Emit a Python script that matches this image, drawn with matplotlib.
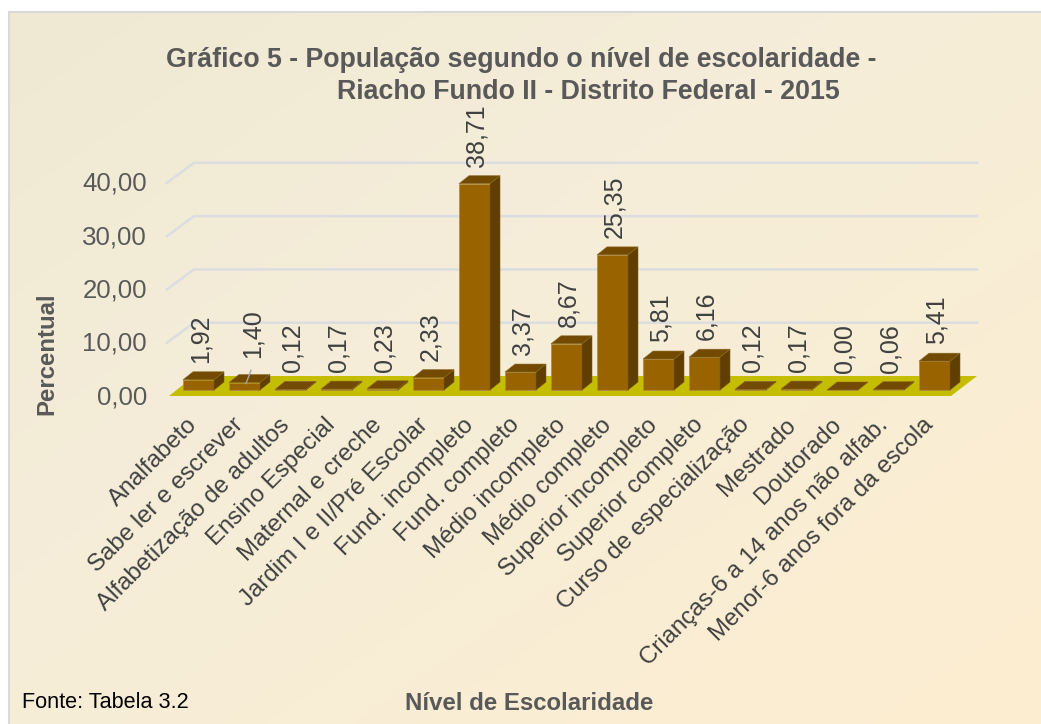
import numpy as np
import matplotlib
matplotlib.use("Agg")
import matplotlib.pyplot as plt
from matplotlib.patches import Polygon
from matplotlib.colors import LinearSegmentedColormap

categorias = ["Analfabeto", "Sabe ler e escrever", "Alfabetização de adultos", "Ensino Especial",
              "Maternal e creche", "Jardim I e II/Pré Escolar", "Fund. incompleto", "Fund. completo",
              "Médio incompleto", "Médio completo", "Superior incompleto", "Superior completo",
              "Curso de especialização", "Mestrado", "Doutorado", "Crianças-6 a 14 anos não alfab.",
              "Menor-6 anos fora da escola"]
valores = [1.92, 1.40, 0.12, 0.17, 0.23, 2.33, 38.71, 3.37, 8.67, 25.35, 5.81, 6.16, 0.12, 0.17, 0.00, 0.06, 5.41]
rotulos = ["1,92", "1,40", "0,12", "0,17", "0,23", "2,33", "38,71", "3,37", "8,67", "25,35", "5,81", "6,16",
           "0,12", "0,17", "0,00", "0,06", "5,41"]
ticks = [0, 10, 20, 30, 40]
tick_labels = ["0,00", "10,00", "20,00", "30,00", "40,00"]

W, H = 1041, 724
plt.rcParams["font.family"] = ["Liberation Sans", "DejaVu Sans"]
fig = plt.figure(figsize=(W / 100, H / 100), dpi=100, facecolor="white")

# fundo com gradiente
bg = fig.add_axes([0, 0, 1, 1], zorder=0)
cmap = LinearSegmentedColormap.from_list("bg", [(0, "#EFE9D3"), (0.4, "#F5EDD9"), (1, "#FDEDD0")])
gx, gy = np.meshgrid(np.linspace(0, 1, 200), np.linspace(0, 1, 200))
bg.imshow((gx + gy) / 2, cmap=cmap, extent=[9, W, H, 12], aspect="auto")
bg.set_xlim(0, W)
bg.set_ylim(H, 0)
bg.axis("off")
bg.plot([9, 9, W], [H, 12, 12], color="#D9D9D9", lw=1.5)

# eixo: 46 px por categoria, 5.33 px por unidade, zero em y=390
px_x, px_y = 46.0, 5.33
x0_px, y0_px = 198.5, 390.0
ax = fig.add_axes([0, 0, 1, 1], zorder=1)
ax.set_xlim(-x0_px / px_x, (W - x0_px) / px_x)
ax.set_ylim(-(H - y0_px) / px_y, y0_px / px_y)
ax.axis("off")

dx = 10 / px_x
dy = 8 / px_y
larg = 31 / px_x

# piso e grade
fx0, fx1 = (169 - x0_px) / px_x, (951 - x0_px) / px_x
bx0, bx1 = (194 - x0_px) / px_x, (977 - x0_px) / px_x
fy, by = -6 / px_y, 14 / px_y
ax.add_patch(Polygon([(fx0, fy), (fx1, fy), (bx1, by), (bx0, by)], color="#C4BD00", lw=0, zorder=2))
for t in ticks[1:]:
    ax.plot([fx0 - 2 / px_x, bx0, bx1], [t + fy, t + by, t + by], color="#DCDDE0", lw=1.8,
            solid_joinstyle="miter", zorder=1)

# barras 3D
for i, v in enumerate(valores):
    l, r = i - larg / 2, i + larg / 2
    ax.bar(i, v, width=larg, color="#996300", edgecolor="#B08A3C", lw=0.5, zorder=3 + i)
    ax.add_patch(Polygon([(r, 0), (r + dx, dy), (r + dx, v + dy), (r, v)], fc="#5F3E00", ec="#7A5A20",
                         lw=0.4, zorder=3 + i))
    ax.add_patch(Polygon([(l, v), (l + dx, v + dy), (r + dx, v + dy), (r, v)], fc="#734B00", ec="#8C6A2A",
                         lw=0.4, zorder=3 + i))
    # o rótulo 1,40 foi deslocado no original
    off = (8, 17) if i == 1 else (2, 9)
    ax.annotate(rotulos[i], (i, v + dy), xytext=off, textcoords="offset pixels", rotation=90,
                ha="center", va="bottom", fontsize=18, color="#404040", zorder=30)

# linha guia do rótulo 1,40
ax.plot([1 + 1.5 / px_x, 1 + 6.5 / px_x], [valores[1] - 0.2, valores[1] + 2.3], color="#A6A6A6", lw=1, zorder=31)

# rótulos dos eixos
for t, lab in zip(ticks, tick_labels):
    ax.annotate(lab, (fx0, t + fy), xytext=(-22, -1), textcoords="offset pixels", ha="right", va="center",
                fontsize=18.6, color="#595959", zorder=30, annotation_clip=False)
for i, c in enumerate(categorias):
    ax.annotate(c, (i, 0), xytext=(-12, -24), textcoords="offset pixels", rotation=45, ha="right", va="top",
                rotation_mode="anchor", fontsize=17.3, color="#404040", zorder=30)

bg.text(521, 60, "Gráfico 5 - População segundo o nível de escolaridade -", ha="center", va="center",
        fontsize=19.3, fontweight="bold", color="#595959")
bg.text(588, 92, "Riacho Fundo II - Distrito Federal - 2015", ha="center", va="center",
        fontsize=19.3, fontweight="bold", color="#595959")
bg.text(47, 354, "Percentual", rotation=90, ha="center", va="center", fontsize=17.3, fontweight="bold",
        color="#595959")
bg.text(529, 703, "Nível de Escolaridade", ha="center", va="center", fontsize=17.3, fontweight="bold",
        color="#595959")
bg.text(22, 703, "Fonte: Tabela 3.2", ha="left", va="center", fontsize=15.6, color="#000000")

fig.savefig("out.png", dpi=100)
